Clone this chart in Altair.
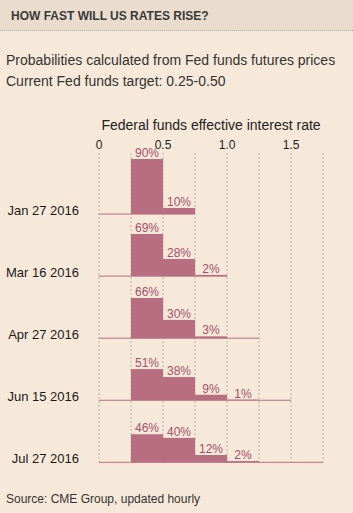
import altair as alt
import pandas as pd

# ---- data ----
dates = ["Jan 27 2016", "Mar 16 2016", "Apr 27 2016", "Jun 15 2016", "Jul 27 2016"]
bin_lo = [0.25, 0.50, 0.75, 1.00]
bin_hi = [0.50, 0.75, 1.00, 1.25]
probs = [
    [90, 10],
    [69, 28, 2],
    [66, 30, 3],
    [51, 38, 9, 1],
    [46, 40, 12, 2],
]
rule_end = [0.75, 1.0, 1.25, 1.5, 1.75]
grid_x = [0, 0.25, 0.5, 0.75, 1.0, 1.25, 1.5, 1.75]
tick_vals = [0, 0.5, 1.0, 1.5]
tick_labels = ["0", "0.5", "1.0", "1.5"]

title_text = "HOW FAST WILL US RATES RISE?"
sub1 = "Probabilities calculated from Fed funds futures prices"
sub2 = "Current Fed funds target: 0.25-0.50"
axis_title = "Federal funds effective interest rate"
source_text = "Source: CME Group, updated hourly"

# ---- styling ----
BG = "#f7e9d9"
HEAD_BG = "#e9dccd"
BAR = "#b96d80"
LABEL = "#a5506d"
TXT = "#333333"
FONT = "Liberation Sans"
ROW_FILL = 0.984  # share of a row's height used by a 100% bar
N = len(dates)

bars = []
for i, (d, ps) in enumerate(zip(dates, probs)):
    for j, p in enumerate(ps):
        bars.append({"row": i, "date": d, "lo": bin_lo[j], "hi": bin_hi[j],
                     "pct": p, "label": f"{p}%"})
bars_df = pd.DataFrame(bars)
rows_df = pd.DataFrame({"row": list(range(N)), "date": dates, "end": rule_end})
grid_df = pd.DataFrame({"g": grid_x})
ticks_df = pd.DataFrame({"v": tick_vals, "t": tick_labels})

xs = alt.Scale(domain=[0, 1.75], range=[99, 323], nice=False, zero=False)
ys = alt.Scale(domain=[0, 5], range=[462.3, 152], nice=False, zero=False)

base_calc = f"{N - 1} - datum.row"
top_calc = f"{N - 1} - datum.row + datum.pct / 100 * {ROW_FILL}"

one = alt.Data(values=[{"a": 1}])

header_rect = alt.Chart(one).mark_rect(color=HEAD_BG).encode(
    x=alt.value(0), x2=alt.value(353), y=alt.value(0), y2=alt.value(29.5))
header_rule = alt.Chart(one).mark_rule(color="#9a9a9a", strokeDash=[1, 1], strokeWidth=1).encode(
    x=alt.value(0), x2=alt.value(353), y=alt.value(30.5))
header_txt = alt.Chart(one).mark_text(
    text=title_text, font=FONT, fontSize=12, fontWeight="bold", color="#3a3a3a",
    align="left", baseline="alphabetic").encode(x=alt.value(11), y=alt.value(19.5))
sub1_txt = alt.Chart(one).mark_text(
    text=sub1, font=FONT, fontSize=14, color=TXT, align="left", baseline="alphabetic"
).encode(x=alt.value(6), y=alt.value(64.5))
sub2_txt = alt.Chart(one).mark_text(
    text=sub2, font=FONT, fontSize=14, color=TXT, align="left", baseline="alphabetic"
).encode(x=alt.value(6), y=alt.value(86))
src_txt = alt.Chart(one).mark_text(
    text=source_text, font=FONT, fontSize=12, color=TXT, align="left", baseline="alphabetic"
).encode(x=alt.value(6), y=alt.value(503))

axis_title_txt = alt.Chart(one).transform_calculate(
    c="1.75 / 2"
).mark_text(
    text=axis_title, font=FONT, fontSize=14, color="#222222", align="center",
    baseline="alphabetic"
).encode(x=alt.X("c:Q", scale=xs, axis=None), y=alt.value(130))

tick_txt = alt.Chart(ticks_df).mark_text(
    font=FONT, fontSize=12, color="#222222", align="center", baseline="alphabetic"
).encode(x=alt.X("v:Q", scale=xs, axis=None), y=alt.value(149), text="t:N")

grid = alt.Chart(grid_df).transform_calculate(
    top=f"{N - 1} + {ROW_FILL}", bot="0"
).mark_rule(color="#b9b1a7", strokeDash=[2, 2], strokeWidth=1).encode(
    x=alt.X("g:Q", scale=xs, axis=None),
    y=alt.Y("top:Q", scale=ys, axis=None),
    y2="bot:Q",
)

base_rules = alt.Chart(rows_df).transform_calculate(
    base=base_calc, zero="0"
).mark_rule(color=BAR, strokeWidth=1).encode(
    x=alt.X("zero:Q", scale=xs, axis=None),
    x2="end:Q",
    y=alt.Y("base:Q", scale=ys, axis=None),
)

rects = alt.Chart(bars_df).transform_calculate(
    base=base_calc, top=top_calc
).mark_rect(color=BAR).encode(
    x=alt.X("lo:Q", scale=xs, axis=None),
    x2="hi:Q",
    y=alt.Y("top:Q", scale=ys, axis=None),
    y2="base:Q",
)

labels = alt.Chart(bars_df).transform_calculate(
    top=top_calc, mid="(datum.lo + datum.hi) / 2"
).mark_text(font=FONT, fontSize=12, color=LABEL, baseline="alphabetic", dy=-2).encode(
    x=alt.X("mid:Q", scale=xs, axis=None),
    y=alt.Y("top:Q", scale=ys, axis=None),
    text="label:N",
)

row_labels = alt.Chart(rows_df).transform_calculate(
    base=base_calc
).mark_text(font=FONT, fontSize=13, color="#1a1a1a", align="right",
            baseline="alphabetic", dy=1).encode(
    x=alt.value(79),
    y=alt.Y("base:Q", scale=ys, axis=None),
    text="date:N",
)

chart = alt.layer(
    header_rect, header_rule, header_txt, sub1_txt, sub2_txt, src_txt,
    axis_title_txt, tick_txt,
    grid, base_rules, rects, labels, row_labels,
).properties(
    width=353, height=513, padding=0,
    autosize=alt.AutoSizeParams(type="none"),
    background=BG,
).configure_view(stroke=None)

chart.save("out.html", embed_options={"renderer": "svg", "actions": False})
